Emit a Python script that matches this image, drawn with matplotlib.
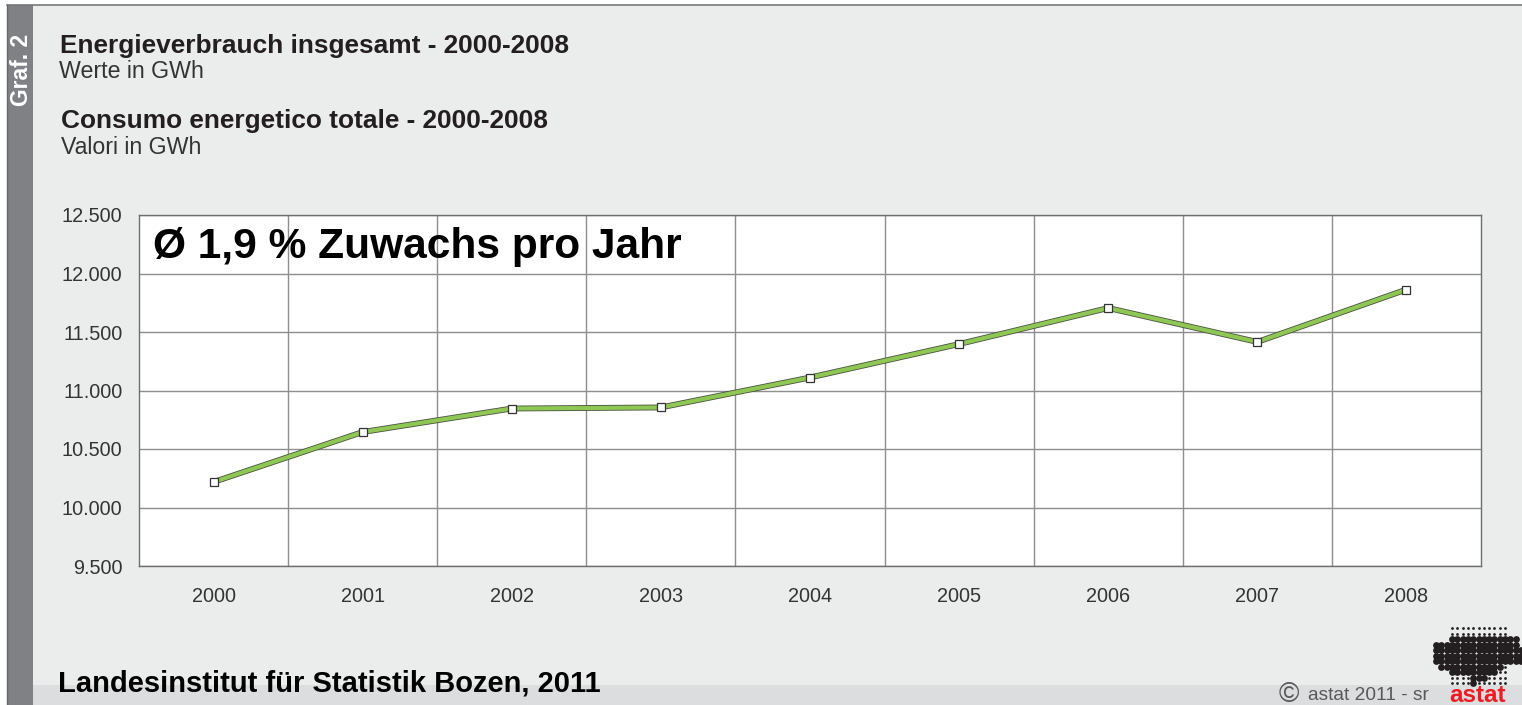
import numpy as np
import matplotlib
matplotlib.use('Agg')
import matplotlib.pyplot as plt
from matplotlib.patches import Rectangle

plt.rcParams['font.family'] = ['Liberation Sans', 'DejaVu Sans']

years = ['2000', '2001', '2002', '2003', '2004', '2005', '2006', '2007', '2008']
consumption = [10218, 10645, 10846, 10855, 11111, 11397, 11705, 11415, 11863]
y_ticks = [9500, 10000, 10500, 11000, 11500, 12000, 12500]
y_labels = ['9.500', '10.000', '10.500', '11.000', '11.500', '12.000', '12.500']

# logo rows: row index, first and last column of the filled dots
logo_rows = [(2, 0, 12), (3, -3, 12), (4, -3, 13), (5, -3, 13), (6, -3, 13), (7, -2, 9),
             (8, 0, 8), (9, 4, 6), (10, 4, 4)]

W, H = 1522, 705
fig = plt.figure(figsize=(W / 100, H / 100), dpi=100, facecolor='white')

# page background in pixel coordinates
bg = fig.add_axes([0, 0, 1, 1])
bg.set_xlim(0, W)
bg.set_ylim(H, 0)
bg.axis('off')
bg.add_patch(Rectangle((7, 5), W - 7, H - 5, color='#ebecec', lw=0))
bg.add_patch(Rectangle((33, 685), W - 33, 20, color='#dcddde', lw=0))
bg.add_patch(Rectangle((7, 5), 26, H - 5, color='#808185', lw=0))
bg.plot([7, W], [5, 5], color='#77787b', lw=1.2)
bg.plot([7, 7], [5, H], color='#66676a', lw=1)

bg.text(22, 70, 'Graf. 2', color='white', fontsize=16.5, fontweight='bold',
        rotation=90, ha='center', va='center')
bg.text(60, 46.5, 'Energieverbrauch insgesamt - 2000-2008', color='#231f20', fontsize=18.9,
        fontweight='bold', va='center')
bg.text(59, 72, 'Werte in GWh', color='#333333', fontsize=16.7, va='center')
bg.text(61, 121, 'Consumo energetico totale - 2000-2008', color='#231f20', fontsize=18.9,
        fontweight='bold', va='center')
bg.text(61, 147, 'Valori in GWh', color='#333333', fontsize=16.7, va='center')
bg.text(58, 683, 'Landesinstitut für Statistik Bozen, 2011', color='black', fontsize=21,
        fontweight='bold', va='center')

# copyright and logo
bg.text(1289, 695, '©', color='#58595b', fontsize=20, ha='center', va='center')
bg.text(1308, 695, 'astat 2011 - sr', color='#58595b', fontsize=13.75, va='center')
bg.text(1478, 696, 'astat', color='#ed1c24', fontsize=17.5, fontweight='bold', ha='center', va='center')

gx, gy = np.meshgrid(np.arange(11), np.arange(11))
bg.scatter(1452 + gx.ravel() * 5.3, 628 + gy.ravel() * 5.5, s=4, color='#231f20', lw=0)
for row, c0, c1 in logo_rows:
    cols = np.arange(c0, c1 + 1)
    bg.scatter(1452 + cols * 5.3, 628 + row * 5.5 * np.ones(len(cols)), s=24, color='#231f20', lw=0)

# chart
ax = fig.add_axes([139 / W, 1 - 566 / H, (1481 - 139) / W, (566 - 215) / H])
ax.set_facecolor('white')
x = np.arange(len(years))
ax.plot(x, consumption, color='#4a5140', lw=4.2, solid_joinstyle='miter', zorder=3)
ax.plot(x, consumption, color='#8fc755', lw=3, solid_joinstyle='miter', zorder=4)
ax.plot(x, consumption, ls='none', marker='s', ms=5.5, mfc='white', mec='#333333', mew=0.9, zorder=5)

ax.set_xlim(-0.5, len(years) - 0.5)
ax.set_ylim(9500, 12500)
ax.set_yticks(y_ticks)
ax.set_yticklabels(y_labels)
ax.set_xticks(x)
ax.set_xticklabels(years)
ax.set_xticks(x[:-1] + 0.5, minor=True)
ax.tick_params(axis='both', which='both', length=0, labelsize=14.3, labelcolor='#333333')
ax.tick_params(axis='x', pad=15)
ax.tick_params(axis='y', pad=12)
ax.grid(True, axis='y', which='major', color='#8e8e8e', lw=1)
ax.grid(True, axis='x', which='minor', color='#8e8e8e', lw=1)
ax.grid(False, axis='x', which='major')
ax.set_axisbelow(True)
for s in ax.spines.values():
    s.set_color('#6d6e71')
    s.set_linewidth(1)

ax.text(153, 247, 'Ø 1,9 % Zuwachs pro Jahr', transform=bg.transData, color='black', fontsize=30.6,
        fontweight='bold', va='center', zorder=6)

fig.savefig('out.png', dpi=100)
